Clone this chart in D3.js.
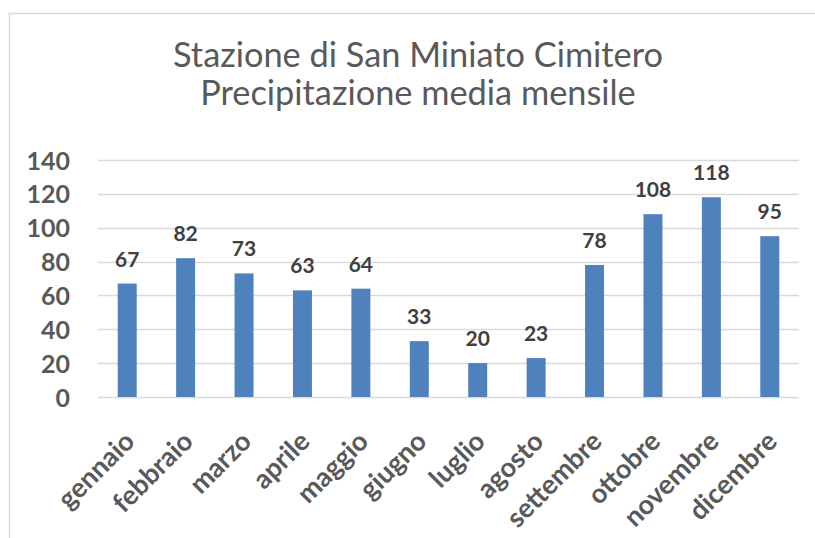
<!DOCTYPE html>
<html>
<head>
<meta charset="utf-8">
<script src="https://cdn.jsdelivr.net/npm/d3@7"></script>
<style>
  html, body { margin: 0; padding: 0; background: #fff; }
  svg { display: block; }
</style>
</head>
<body>
<svg id="chart" width="815" height="538"></svg>
<script>
const titleLines = ["Stazione di San Miniato Cimitero", "Precipitazione media mensile"];
const months = ["gennaio", "febbraio", "marzo", "aprile", "maggio", "giugno", "luglio", "agosto", "settembre", "ottobre", "novembre", "dicembre"];
const rainfall = [67, 82, 73, 63, 64, 33, 20, 23, 78, 108, 118, 95];
const yTicks = [0, 20, 40, 60, 80, 100, 120, 140];

const font = "Lato, 'Open Sans', sans-serif";
const svg = d3.select("#chart");

// chart frame (extends beyond the right and bottom edges)
svg.append("rect")
  .attr("x", 9.5).attr("y", 13.5)
  .attr("width", 820).attr("height", 540)
  .attr("fill", "#fff").attr("stroke", "#d9d9d9").attr("stroke-width", 1.5);

const plot = { left: 98, right: 799, top: 160, bottom: 397 };

const x = d3.scaleBand().domain(months).range([plot.left, plot.right]).paddingInner(0.675).paddingOuter(0.3375);
const y = d3.scaleLinear().domain([0, 140]).range([plot.bottom, plot.top]);

// title
const title = svg.append("g");
const t1 = title.append("text").text(titleLines[0])
  .attr("x", 418).attr("y", 67).attr("text-anchor", "middle")
  .attr("fill", "#595959").attr("font-family", font).attr("font-size", 30);
let w = t1.node().getComputedTextLength();
const tSize = 30 * 490 / w;
t1.attr("font-size", tSize);
title.append("text").text(titleLines[1])
  .attr("x", 418).attr("y", 105).attr("text-anchor", "middle")
  .attr("fill", "#595959").attr("font-family", font).attr("font-size", tSize);

// gridlines
svg.append("g").selectAll("line").data(yTicks).join("line")
  .attr("x1", plot.left).attr("x2", plot.right)
  .attr("y1", d => Math.round(y(d)) + 0.5).attr("y2", d => Math.round(y(d)) + 0.5)
  .attr("stroke", "#d9d9d9").attr("stroke-width", 1.5);

// y axis labels
const yAxis = d3.axisLeft(y).tickValues(yTicks).tickSize(0).tickPadding(0);
const yg = svg.append("g").attr("transform", "translate(70,0)").call(yAxis);
yg.select(".domain").remove();
yg.selectAll("text")
  .attr("font-family", font).attr("font-size", 25).attr("font-weight", "bold")
  .attr("fill", "#595959").attr("dy", "0.36em");

// bars
svg.append("g").selectAll("rect").data(rainfall).join("rect")
  .attr("x", (d, i) => x(months[i]))
  .attr("width", x.bandwidth())
  .attr("y", d => y(d))
  .attr("height", d => y(0) - y(d))
  .attr("fill", "#4f81bd");

// data labels
svg.append("g").selectAll("text").data(rainfall).join("text")
  .attr("x", (d, i) => x(months[i]) + x.bandwidth() / 2)
  .attr("y", d => y(d) - 17)
  .attr("text-anchor", "middle")
  .attr("font-family", font).attr("font-size", 21).attr("font-weight", "bold")
  .attr("fill", "#404040")
  .text(d => d);

// x axis labels (rotated)
const xAxis = d3.axisBottom(x).tickSize(0).tickPadding(0);
const xg = svg.append("g").attr("transform", `translate(0,${plot.bottom})`).call(xAxis);
xg.select(".domain").remove();
xg.selectAll(".tick text")
  .attr("font-family", font).attr("font-size", 27).attr("font-weight", "bold")
  .attr("fill", "#595959")
  .attr("text-anchor", "end")
  .attr("dy", null).attr("y", 0)
  .attr("transform", "translate(9,46) rotate(-45)");
</script>
</body>
</html>
